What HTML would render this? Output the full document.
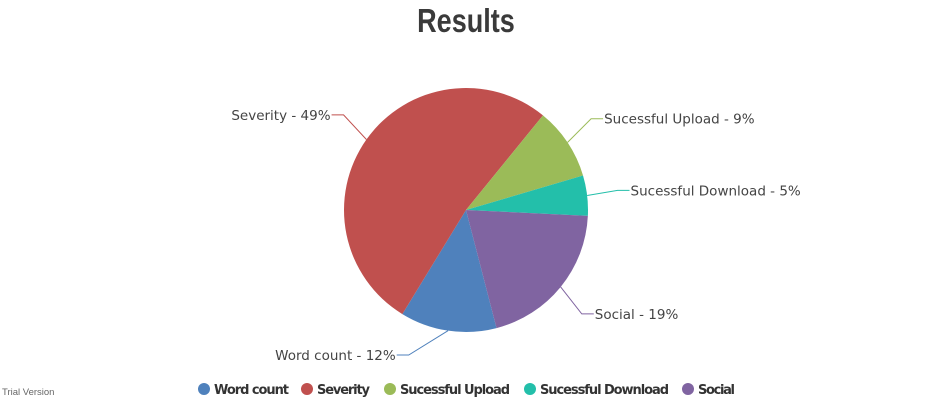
<!DOCTYPE html>
<html><head><meta charset="utf-8"><style>
body{margin:0;background:#fff;width:931px;height:400px;overflow:hidden;font-family:"Liberation Sans",sans-serif}
</style></head><body>
<svg width="931" height="400" xmlns="http://www.w3.org/2000/svg">
<text x="466" y="32" text-anchor="middle" font-family="Liberation Sans, sans-serif" font-weight="bold" font-size="33" fill="#3A3A3A" transform="translate(466,0) scale(0.82,1) translate(-466,0)">Results</text>
<g id="slices"></g>
<g id="labels"></g>
<g id="legend"></g>
<text x="2" y="395" font-size="9.5" fill="#666">Trial Version</text>
</svg>
<script>
const categories=["Word count","Severity","Sucessful Upload","Sucessful Download","Social"];
const values=[12,49,9,5,19];
const colors=["#4F81BC","#C0504E","#9BBB58","#23BFAA","#8064A1"];
const legendX=[204,307,390,530,688];
const cx=466,cy=210,r=122,startAngle=75.5;
const NS="http://www.w3.org/2000/svg";
const total=values.reduce((a,b)=>a+b,0);
const sg=document.getElementById('slices'),lg=document.getElementById('labels'),leg=document.getElementById('legend');
function pt(a,rr){const t=a*Math.PI/180;return [cx+rr*Math.cos(t),cy+rr*Math.sin(t)];}
let a0=startAngle;
values.forEach((v,i)=>{
  const sweep=v/total*360,a1=a0+sweep;
  const p0=pt(a0,r),p1=pt(a1,r);
  const path=document.createElementNS(NS,'path');
  path.setAttribute('d',`M${cx},${cy}L${p0[0]},${p0[1]}A${r},${r} 0 ${sweep>180?1:0} 1 ${p1[0]},${p1[1]}Z`);
  path.setAttribute('fill',colors[i]);
  
  
  sg.appendChild(path);
  const mid=(a0+a1)/2;
  const e=pt(mid,r),l=pt(mid,r*1.35);
  const right=Math.cos(mid*Math.PI/180)>=0;
  const maxY=cy+145;
  if(l[1]>maxY){l[1]=maxY;l[0]+=right?45:-45;}
  if(l[1]<cy-100){l[1]=cy-100;}
  const hx=l[0]+(right?-12:12);
  const line=document.createElementNS(NS,'polyline');
  line.setAttribute('points',`${e[0]},${e[1]} ${hx},${l[1]} ${l[0]},${l[1]}`);
  line.setAttribute('fill','none');line.setAttribute('stroke',colors[i]);line.setAttribute('stroke-width','1');
  
  
  lg.appendChild(line);
  const t=document.createElementNS(NS,'text');
  t.setAttribute('x',l[0]+(right?1:-1));t.setAttribute('y',l[1]+5);
  t.setAttribute('text-anchor',right?'start':'end');
  t.setAttribute('font-size','13.5');t.setAttribute('fill','#444');
  t.setAttribute('font-family','DejaVu Sans, sans-serif');
  t.textContent=categories[i]+' - '+v+'%';
  
  
  lg.appendChild(t);
  const c=document.createElementNS(NS,'circle');
  c.setAttribute('cx',legendX[i]);c.setAttribute('cy',389);c.setAttribute('r',6);c.setAttribute('fill',colors[i]);
  
  
  leg.appendChild(c);
  const lt=document.createElementNS(NS,'text');
  lt.setAttribute('x',legendX[i]+10);lt.setAttribute('y',394);
  lt.setAttribute('font-size','13');lt.setAttribute('font-weight','bold');lt.setAttribute('fill','#333');
  lt.setAttribute('font-family','DejaVu Sans, sans-serif');
  lt.setAttribute('textLength',[75,53,110,129,37][i]);
  lt.textContent=categories[i];
  
  
  leg.appendChild(lt);
  a0=a1;
});
</script>
</body></html>
